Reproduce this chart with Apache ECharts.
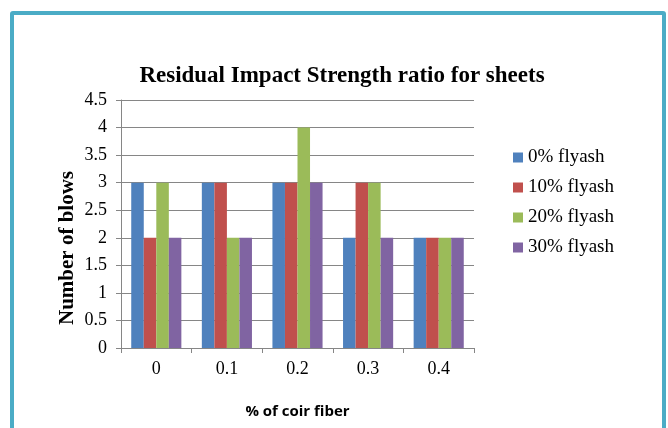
<!DOCTYPE html>
<html><head><meta charset="utf-8">
<script src="https://cdn.jsdelivr.net/npm/echarts@6/dist/echarts.min.js"></script>
<style>
html,body{margin:0;padding:0;background:#fff;}
#frame{position:absolute;left:10px;top:11px;width:656px;height:440px;border:4px solid #4BACC6;border-radius:3px;box-sizing:border-box;}
#c{position:absolute;left:0;top:0;width:668px;height:428px;}
</style></head>
<body>
<div id="frame"></div>
<div id="c"></div>
<script>
const categories = ['0', '0.1', '0.2', '0.3', '0.4'];
const seriesNames = ['0% flyash', '10% flyash', '20% flyash', '30% flyash'];
const flyash0 = [3, 3, 3, 2, 2];
const flyash10 = [2, 3, 3, 3, 2];
const flyash20 = [3, 2, 4, 3, 2];
const flyash30 = [2, 2, 3, 2, 2];
const yTicks = { min: 0, max: 4.5, interval: 0.5 };

const colors = ['#4F81BD', '#C0504D', '#9BBB59', '#8064A2'];
const values = [flyash0, flyash10, flyash20, flyash30];
const serif = 'Liberation Serif';

const chart = echarts.init(document.getElementById('c'));
chart.setOption({
  animation: false,
  title: {
    text: 'Residual Impact Strength ratio for sheets',
    left: 337, top: 60, textAlign: 'center',
    textStyle: { fontFamily: serif, fontWeight: 'bold', fontSize: 23, color: '#000' }
  },
  legend: {
    orient: 'vertical', left: 508, top: 143, itemGap: 11,
    itemWidth: 10, itemHeight: 10, icon: 'rect',
    textStyle: { fontFamily: serif, fontSize: 19, color: '#000' },
    data: seriesNames
  },
  graphic: [{
    type: 'text', x: 68, y: 248, rotation: Math.PI / 2,
    style: {
      text: 'Number of blows', textAlign: 'center', textVerticalAlign: 'middle',
      fontFamily: serif, fontWeight: 'bold', fontSize: 21, fill: '#000'
    }
  }],
  grid: { left: 121, right: 194, top: 100, bottom: 80 },
  xAxis: {
    type: 'category', data: categories,
    name: '% of coir fiber', nameLocation: 'middle', nameGap: 56,
    nameTextStyle: { fontFamily: 'Open Sans', fontWeight: 'bold', fontSize: 15, color: '#000' },
    axisLine: { lineStyle: { color: '#868686' } },
    axisTick: { show: true, length: 5, interval: 0, lineStyle: { color: '#868686' } },
    axisLabel: { fontFamily: serif, fontSize: 18, color: '#000', margin: 12 }
  },
  yAxis: {
    type: 'value', min: yTicks.min, max: yTicks.max, interval: yTicks.interval,
    axisLine: { show: true, lineStyle: { color: '#868686' } },
    axisTick: { show: true, length: 5, lineStyle: { color: '#868686' } },
    axisLabel: { fontFamily: serif, fontSize: 18, color: '#000', margin: 14 },
    splitLine: { lineStyle: { color: '#868686' } }
  },
  series: seriesNames.map((n, i) => ({
    name: n, type: 'bar', data: values[i],
    itemStyle: { color: colors[i] },
    barGap: '0%', barCategoryGap: '29%'
  }))
});
</script>
</body></html>
